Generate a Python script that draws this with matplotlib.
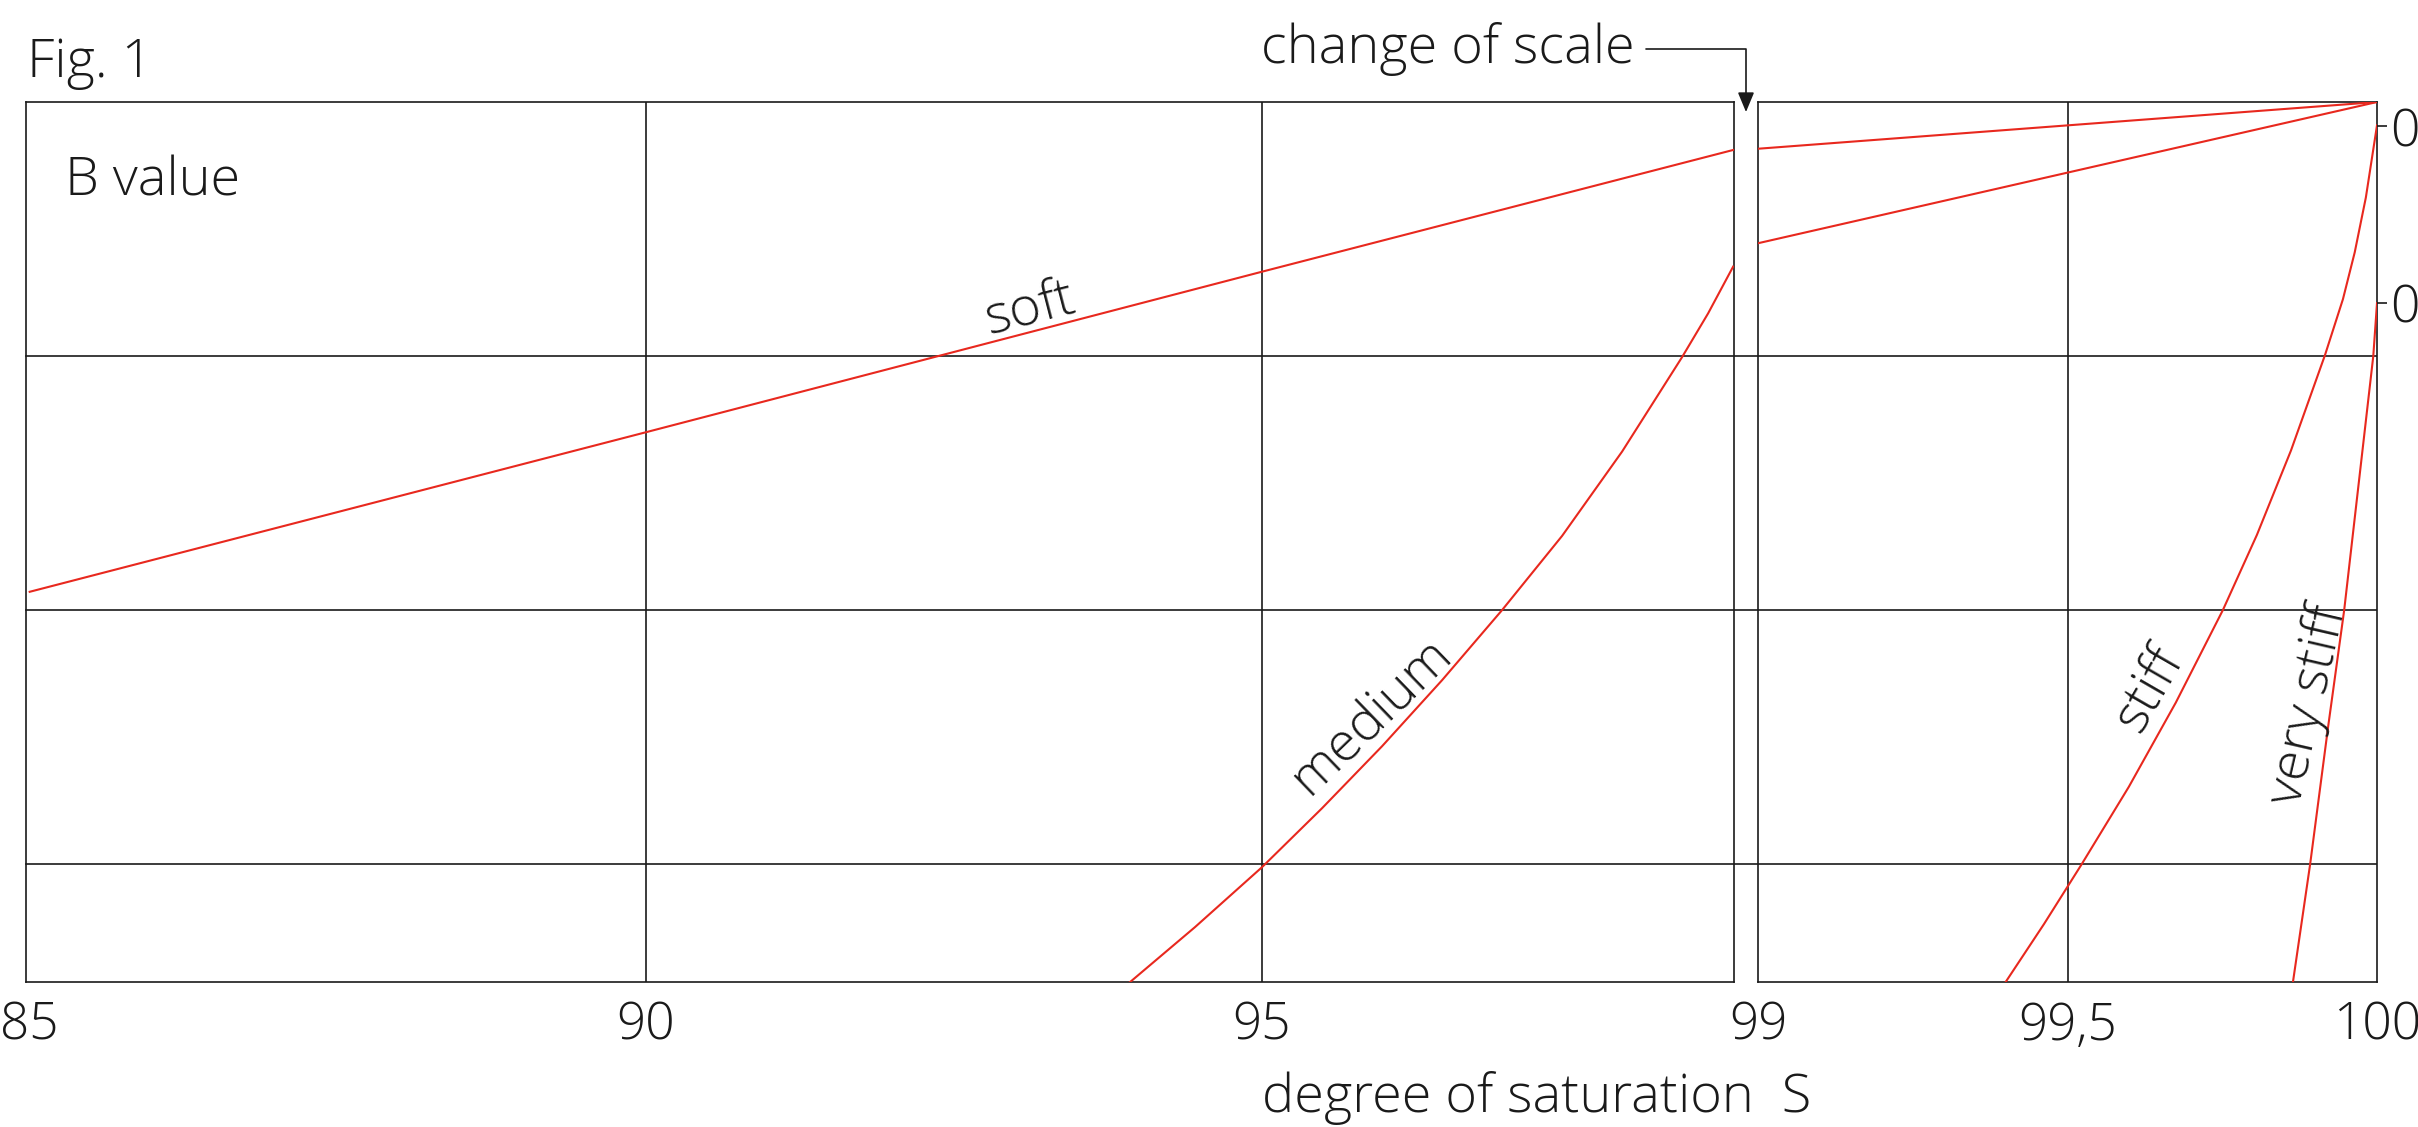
import numpy as np
import matplotlib.pyplot as plt

plt.rcParams['font.family'] = ['Open Sans', 'DejaVu Sans']
plt.rcParams['font.weight'] = 'light'

# --- data (S in %, B value) ---
soft_s_left = [85.0, 90.0, 95.0, 98.83]
soft_b_left = [0.518, 0.675, 0.833, 0.953]

medium_s_left = [93.92, 94.456, 95.00, 95.487, 95.974, 96.461, 96.948,
                 97.435, 97.922, 98.409, 98.620, 98.823]
medium_b_left = [0.133, 0.188, 0.247, 0.305, 0.366, 0.431, 0.500,
                 0.573, 0.656, 0.749, 0.792, 0.838]

soft_s_right = [99.0, 100.0]
soft_b_right = [0.954, 1.0]
medium_s_right = [99.0, 100.0]
medium_b_right = [0.861, 1.0]

stiff_s = [99.399, 99.462, 99.523, 99.599, 99.675, 99.751, 99.806, 99.861,
           99.916, 99.945, 99.964, 99.982, 100.0]
stiff_b = [0.133, 0.191, 0.250, 0.326, 0.409, 0.500, 0.574, 0.657,
           0.751, 0.806, 0.852, 0.906, 0.977]

vstiff_s = [99.864, 99.892, 99.921, 99.947, 99.994, 100.0]
vstiff_b = [0.133, 0.250, 0.385, 0.500, 0.750, 0.802]

left_ticks = [85, 90, 95]
left_tick_labels = ["85", "90", "95"]
right_ticks = [99, 99.5, 100]
right_tick_labels = ["99", "99,5", "100"]
left_vgrid = [90, 95]
right_vgrid = [99.5]
b_grid = [0.25, 0.5, 0.75]
b_ticks = [0.976, 0.802]
b_tick_labels = ["0", "0"]

# --- layout (pixels of the 2418x1127 canvas) ---
W, H = 2418, 1127
RED = '#e8281e'
INK = '#1a1a1a'
FS = 39
TICK_FS = 37


def box(x0, x1, y0, y1):
    return [x0 / W, 1 - y1 / H, (x1 - x0) / W, (y1 - y0) / H]


fig = plt.figure(figsize=(W / 100, H / 100), dpi=100)
axL = fig.add_axes(box(26, 1734, 102, 982))
axR = fig.add_axes(box(1758, 2377, 102, 982))

axL.set_xlim(84.97, 98.83)
axR.set_xlim(99.0, 100.0)
for ax in (axL, axR):
    ax.set_ylim(0.134, 1.0)
    for sp in ax.spines.values():
        sp.set_linewidth(1.2)
        sp.set_color(INK)

# grid lines; horizontal ones run across the gap between the panels
gap = (1758 - 26) / (1734 - 26)
for b in b_grid:
    axL.axhline(b, xmin=0, xmax=gap, color=INK, lw=1.2, clip_on=False, zorder=1)
    axR.axhline(b, color=INK, lw=1.2, zorder=1)
for s in left_vgrid:
    axL.axvline(s, color=INK, lw=1.2, zorder=1)
for s in right_vgrid:
    axR.axvline(s, color=INK, lw=1.2, zorder=1)

# curves
axL.plot(soft_s_left, soft_b_left, color=RED, lw=1.5, zorder=3)
axL.plot(medium_s_left, medium_b_left, color=RED, lw=1.5, zorder=3)
axR.plot(soft_s_right, soft_b_right, color=RED, lw=1.5, zorder=3)
axR.plot(medium_s_right, medium_b_right, color=RED, lw=1.5, zorder=3)
axR.plot(stiff_s, stiff_b, color=RED, lw=1.5, zorder=3)
axR.plot(vstiff_s, vstiff_b, color=RED, lw=1.5, zorder=3)

# ticks
axL.set_xticks(left_ticks, left_tick_labels)
axL.set_yticks([])
axL.tick_params(axis='x', length=0, pad=13, labelsize=TICK_FS, colors=INK)

axR.set_xticks(right_ticks, right_tick_labels)
axR.tick_params(axis='x', length=0, pad=13, labelsize=TICK_FS, colors=INK)
axR.set_yticks(b_ticks, b_tick_labels)
axR.yaxis.tick_right()
axR.tick_params(axis='y', length=7.2, width=1.2, pad=2, labelsize=TICK_FS, colors=INK)

# curve labels
lab = dict(fontsize=FS, color=INK, ha='center', va='center', rotation_mode='anchor')
axL.text(93.12, 0.797, 'soft', rotation=14.5, **lab)
axL.text(95.89, 0.395, 'medium', rotation=44, **lab)
axR.text(99.632, 0.423, 'stiff', rotation=60, **lab)
axR.text(99.889, 0.406, 'very stiff', rotation=77, **lab)

# figure texts
fig.text(27 / W, 1 - 77 / H, 'Fig. 1', fontsize=FS, color=INK, va='baseline')
fig.text(65 / W, 1 - 196 / H, 'B value', fontsize=FS, color=INK, va='baseline')
fig.text(1262 / W, 1 - 1112 / H, 'degree of saturation  S', fontsize=FS,
         color=INK, va='baseline')

axL.annotate('change of scale',
             xy=(1746 / W, 1 - 112 / H), xycoords='figure fraction',
             xytext=(1261 / W, 1 - 63 / H), textcoords='figure fraction',
             fontsize=FS, color=INK, ha='left', va='baseline',
             arrowprops=dict(arrowstyle='-|>,head_length=0.6,head_width=0.25',
                             mutation_scale=20, color=INK, lw=1.2,
                             relpos=(1.0, 0.5), shrinkA=6, shrinkB=0,
                             connectionstyle='angle,angleA=0,angleB=90,rad=0'),
             annotation_clip=False)

fig.savefig('out.png', dpi=100)
